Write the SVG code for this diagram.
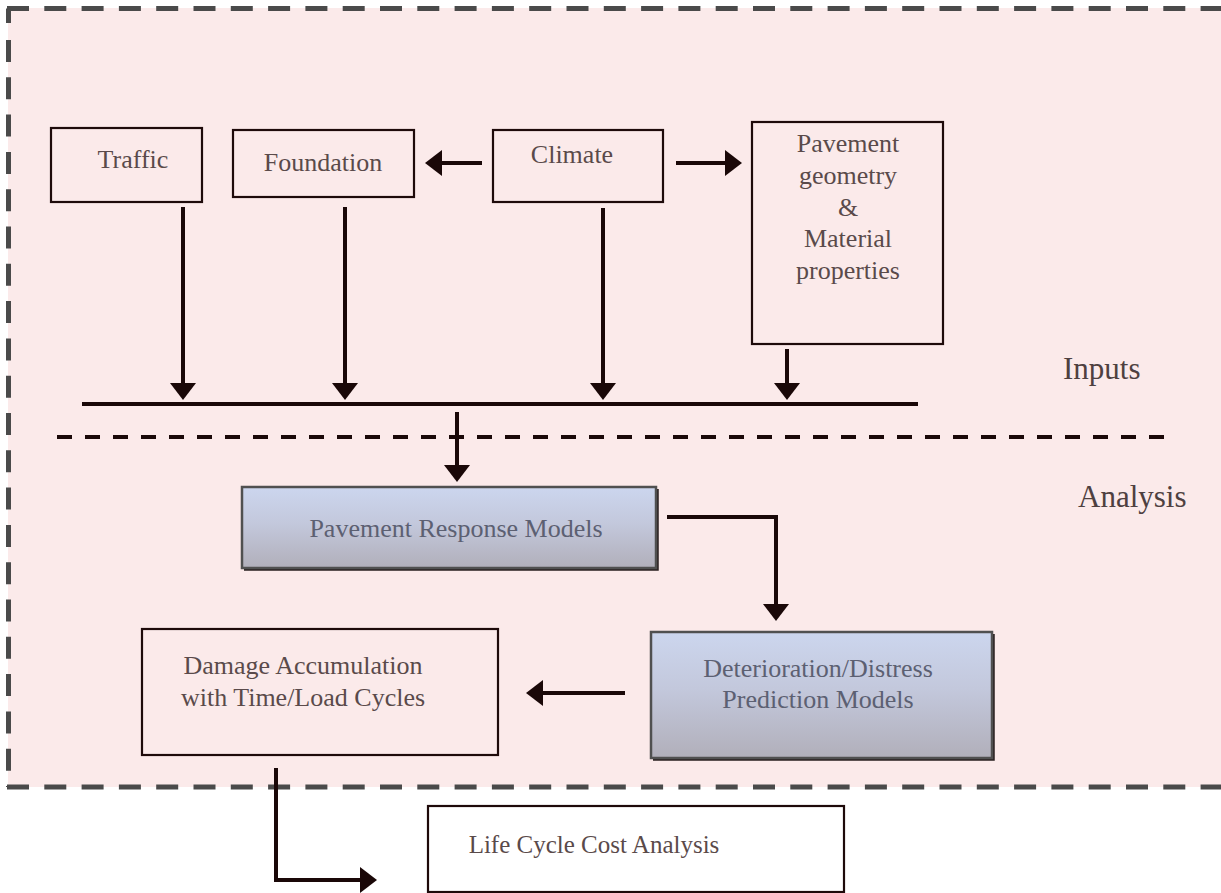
<svg xmlns="http://www.w3.org/2000/svg" width="1221" height="893" viewBox="0 0 1221 893">
  <defs>
    <linearGradient id="modelFill" x1="0" y1="0" x2="0" y2="1">
      <stop offset="0" stop-color="#ccd6ee"/>
      <stop offset="0.45" stop-color="#c3c8dc"/>
      <stop offset="1" stop-color="#b1afba"/>
    </linearGradient>
    <marker id="arrow" markerUnits="userSpaceOnUse" markerWidth="17" markerHeight="26" refX="9" refY="13" orient="auto">
      <path d="M0,0 L17,13 L0,26 Z" fill="#1a0808"/>
    </marker>
  </defs>
  <style>
    .frame { fill: none; stroke: #4a4a4a; stroke-width: 5; stroke-dasharray: 22 15.3; }
    .box { fill: none; stroke: #1e0a0a; stroke-width: 2.2; }
    .white { fill: #ffffff; stroke: #1e0a0a; stroke-width: 2.2; }
    .model { fill: url(#modelFill); stroke: #505050; stroke-width: 2.5; }
    .shadow { fill: none; stroke: #2a2020; stroke-width: 2.5; }
    .label { font-family: "Liberation Serif", "Times New Roman", serif; font-size: 26px; fill: #5a4a4a; text-anchor: middle; }
    .mlabel { font-family: "Liberation Serif", "Times New Roman", serif; font-size: 26px; fill: #5c6072; text-anchor: middle; }
    .zone { font-family: "Liberation Serif", "Times New Roman", serif; font-size: 31px; fill: #4e4040; }
    .wire { fill: none; stroke: #1a0808; stroke-width: 4; }
    .arrowed { fill: none; stroke: #1a0808; stroke-width: 4; marker-end: url(#arrow); }
    .divider { fill: none; stroke: #1a0808; stroke-width: 4; stroke-dasharray: 15 13; }
  </style>

  <!-- shaded analysis region with dashed frame -->
  <g id="region">
    <rect x="8" y="8" width="1213" height="779" fill="#fbeaea"/>
    <path class="frame" d="M7 8.5 H1221"/>
    <path class="frame" d="M7 787 H1221"/>
    <path class="frame" d="M8.5 40 V787"/>
    <path d="M8.5 23 V8.5" stroke="#4a4a4a" stroke-width="5" fill="none"/>
  </g>

  <!-- section labels and divider -->
  <g id="sections">
    <path class="divider" d="M57 437 H1168"/>
    <text class="zone" x="1063" y="379">Inputs</text>
    <text class="zone" x="1078" y="507">Analysis</text>
  </g>

  <g id="traffic">
    <rect class="box" x="51" y="128" width="151" height="74"/>
    <text class="label" x="133" y="168">Traffic</text>
  </g>

  <g id="foundation">
    <rect class="box" x="233" y="130" width="181" height="67"/>
    <text class="label" x="323" y="171">Foundation</text>
  </g>

  <g id="climate">
    <rect class="box" x="493" y="130" width="170" height="72"/>
    <text class="label" x="572" y="163">Climate</text>
  </g>

  <g id="pavement">
    <rect class="box" x="752" y="122" width="191" height="222"/>
    <text class="label" x="848" y="152">Pavement</text>
    <text class="label" x="848" y="184">geometry</text>
    <text class="label" x="848" y="216">&amp;</text>
    <text class="label" x="848" y="247">Material</text>
    <text class="label" x="848" y="279">properties</text>
  </g>

  <g id="response">
    <path class="shadow" d="M244 569.5 H657.5 V489"/>
    <rect class="model" x="242" y="487" width="414" height="81"/>
    <text class="mlabel" x="456" y="537">Pavement Response Models</text>
  </g>

  <g id="distress">
    <path class="shadow" d="M653 759.5 H993.5 V634"/>
    <rect class="model" x="651" y="632" width="341" height="126"/>
    <text class="mlabel" x="818" y="677">Deterioration/Distress</text>
    <text class="mlabel" x="818" y="708">Prediction Models</text>
  </g>

  <g id="damage">
    <rect class="box" x="142" y="629" width="356" height="126"/>
    <text class="label" x="303" y="674">Damage Accumulation</text>
    <text class="label" x="303" y="706">with Time/Load Cycles</text>
  </g>

  <g id="lcca">
    <rect class="white" x="428" y="806" width="416" height="86"/>
    <text class="label" x="594" y="853" style="font-size:25px">Life Cycle Cost Analysis</text>
  </g>

  <g id="connectors">
    <path class="arrowed" d="M482 163 H433"/>
    <path class="arrowed" d="M676 163 H734"/>
    <path class="arrowed" d="M183 207 V392"/>
    <path class="arrowed" d="M345 207 V392"/>
    <path class="arrowed" d="M603 208 V392"/>
    <path class="arrowed" d="M787 349 V392"/>
    <path class="wire" d="M82 404 H918"/>
    <path class="arrowed" d="M457 412 V474"/>
    <path class="arrowed" d="M667 517 H776 V613"/>
    <path class="arrowed" d="M625 693 H534"/>
    <path class="arrowed" d="M276 768 V880 H369"/>
  </g>
</svg>
